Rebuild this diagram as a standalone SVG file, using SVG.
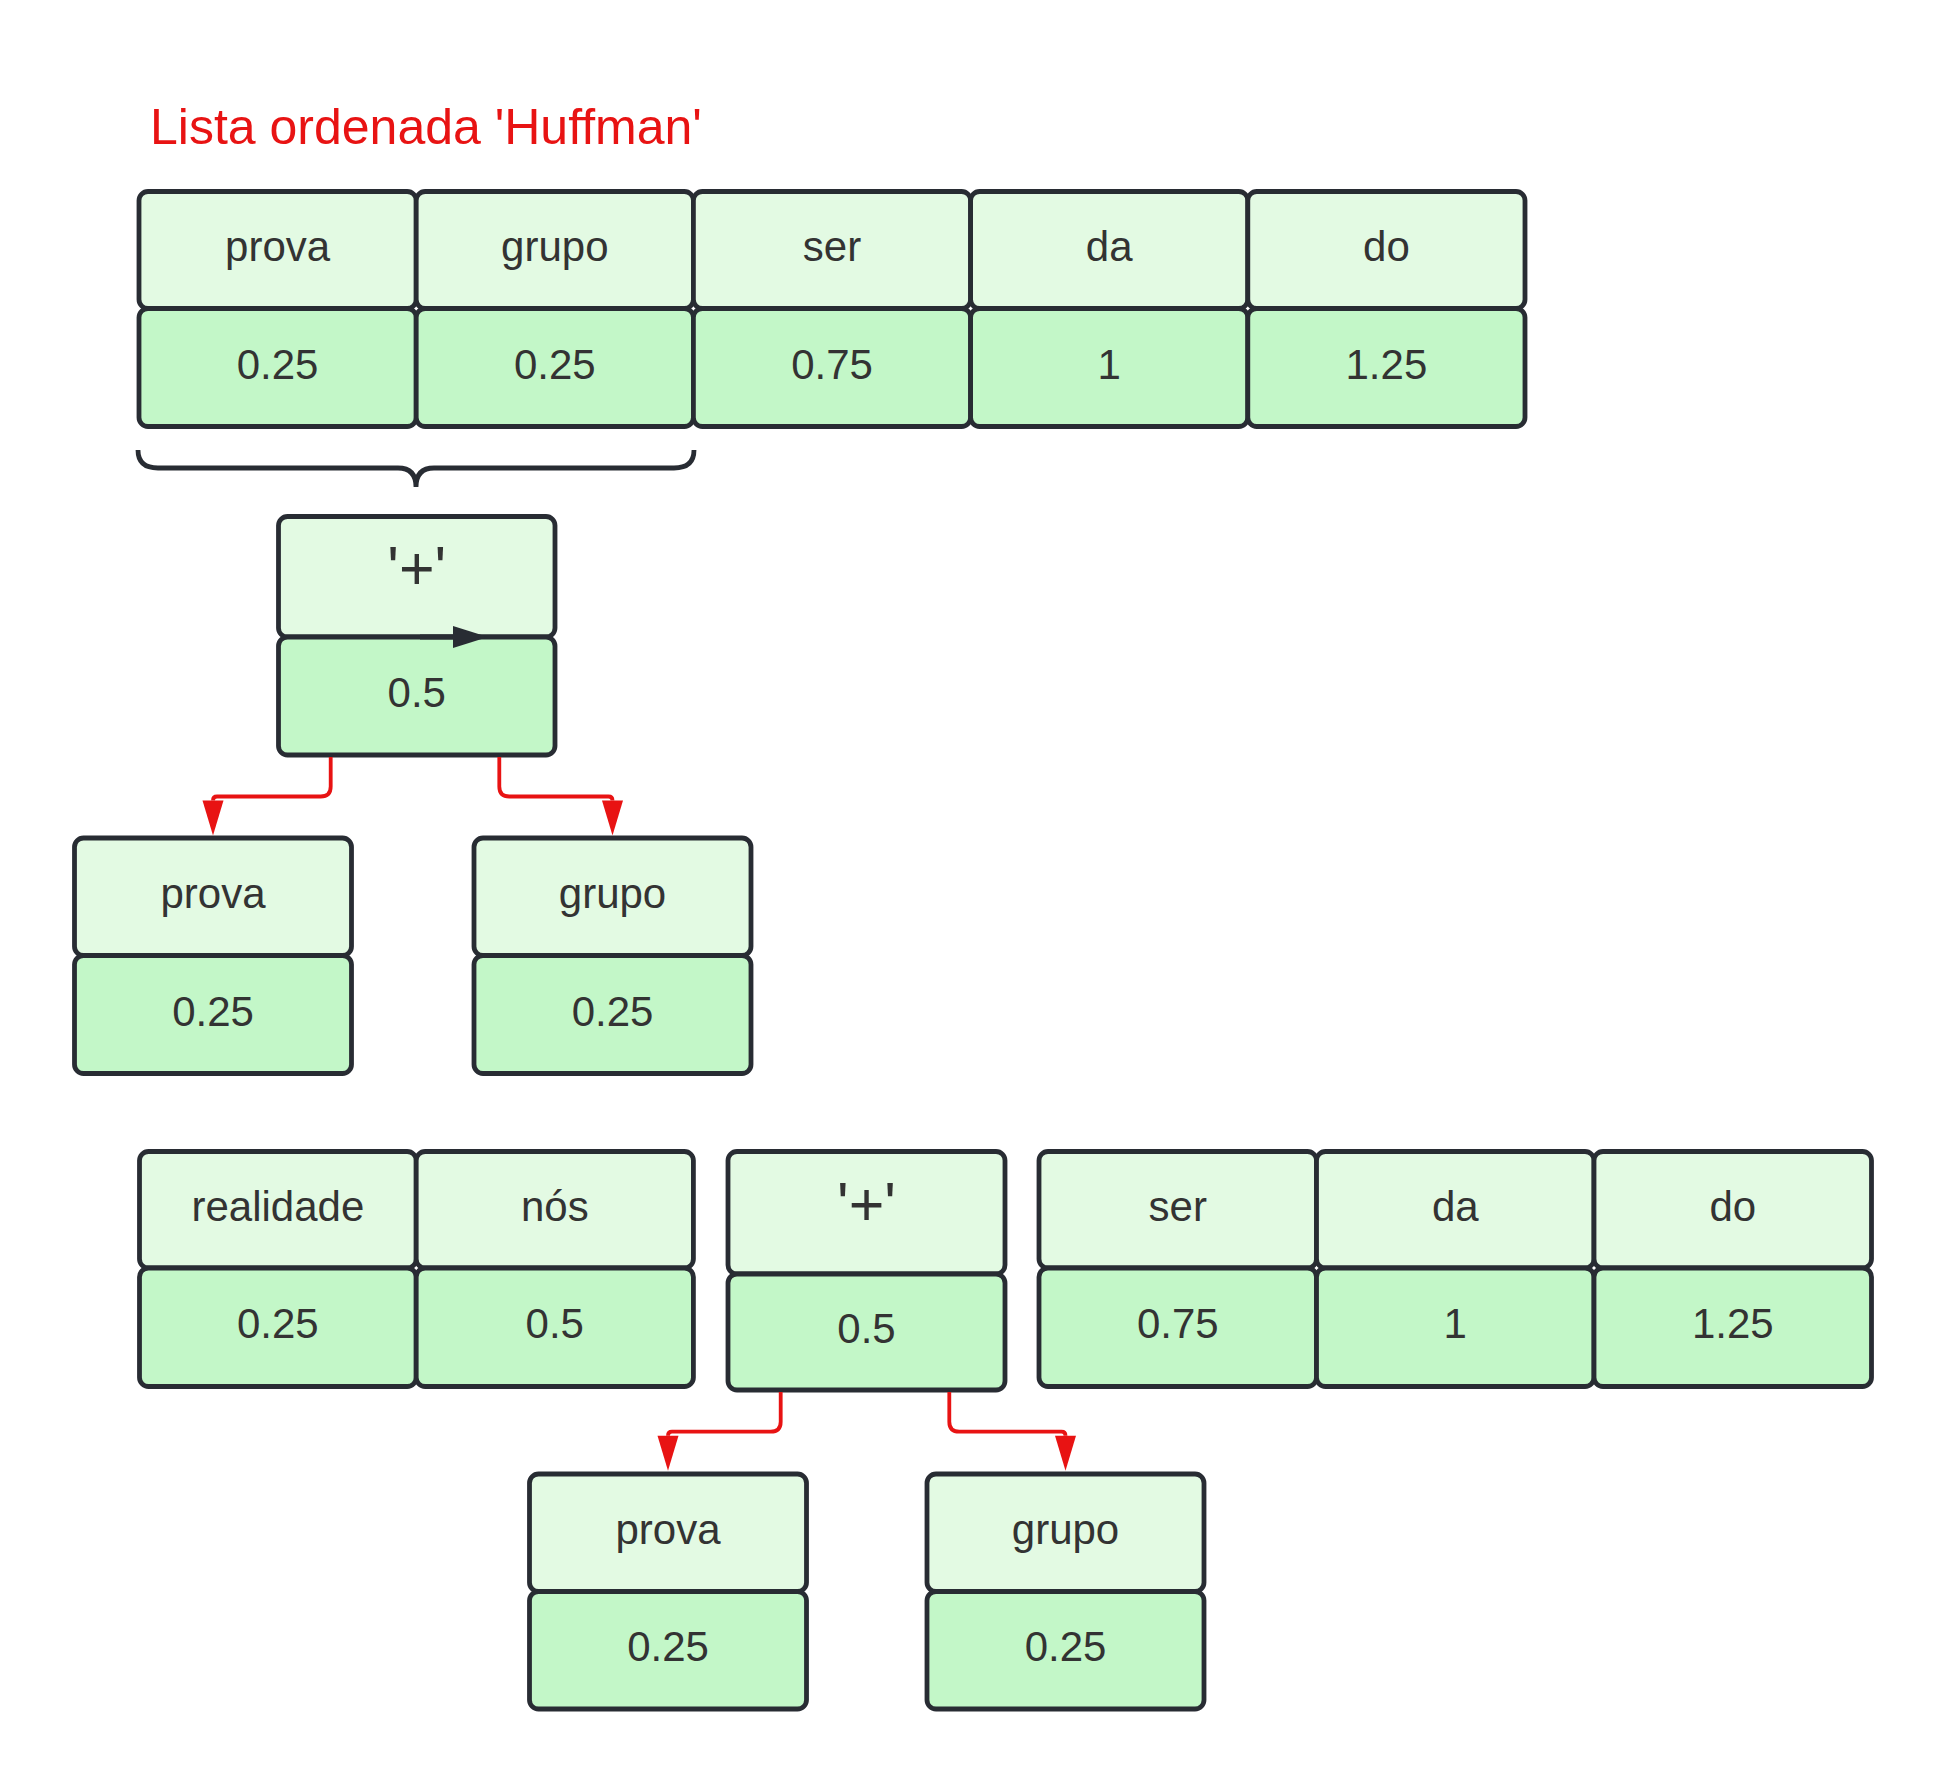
<svg xmlns="http://www.w3.org/2000/svg" width="1946" height="1785" viewBox="0 0 1946 1785">
<style>
  .up{fill:#e3fae3;stroke:#282c33;stroke-width:4.8}
  .lo{fill:#c3f7c8;stroke:#282c33;stroke-width:4.8}
  .t{font-family:"Liberation Sans",Arial,sans-serif;font-size:42px;fill:#333333;text-anchor:middle}
  .p{font-size:61px}
  .red{fill:none;stroke:#e81313;stroke-width:3.8}
  .title{font-family:"Liberation Sans",Arial,sans-serif;font-size:50px;fill:#e81313}
</style>
<defs>
  <marker id="ar" markerUnits="userSpaceOnUse" markerWidth="36" markerHeight="22" refX="0" refY="10.5" orient="auto" overflow="visible">
    <path d="M0,0 L35,10.5 L0,21 z" fill="#e81313"/>
  </marker>
  <marker id="ak" markerUnits="userSpaceOnUse" markerWidth="36" markerHeight="22" refX="0" refY="11" orient="auto" overflow="visible">
    <path d="M0,0 L35,11 L0,22 z" fill="#282c33"/>
  </marker>
</defs>
<rect width="1946" height="1785" fill="#ffffff"/>
<text class="title" x="150" y="143.5">Lista ordenada 'Huffman'</text>

<g id="nodes">
  <!-- top row -->
  <g id="n-prova">
    <rect class="up" x="139" y="191.5" width="277.2" height="117" rx="9"/>
    <rect class="lo" x="139" y="308.5" width="277.2" height="118" rx="9"/>
    <text class="t" x="277.6" y="261">prova</text>
    <text class="t" x="277.6" y="378.5">0.25</text>
  </g>
  <g id="n-grupo">
    <rect class="up" x="416.2" y="191.5" width="277.2" height="117" rx="9"/>
    <rect class="lo" x="416.2" y="308.5" width="277.2" height="118" rx="9"/>
    <text class="t" x="554.8" y="261">grupo</text>
    <text class="t" x="554.8" y="378.5">0.25</text>
  </g>
  <g id="n-ser">
    <rect class="up" x="693.4" y="191.5" width="277.2" height="117" rx="9"/>
    <rect class="lo" x="693.4" y="308.5" width="277.2" height="118" rx="9"/>
    <text class="t" x="832" y="261">ser</text>
    <text class="t" x="832" y="378.5">0.75</text>
  </g>
  <g id="n-da">
    <rect class="up" x="970.6" y="191.5" width="277.2" height="117" rx="9"/>
    <rect class="lo" x="970.6" y="308.5" width="277.2" height="118" rx="9"/>
    <text class="t" x="1109.2" y="261">da</text>
    <text class="t" x="1109.2" y="378.5">1</text>
  </g>
  <g id="n-do">
    <rect class="up" x="1247.8" y="191.5" width="277.2" height="117" rx="9"/>
    <rect class="lo" x="1247.8" y="308.5" width="277.2" height="118" rx="9"/>
    <text class="t" x="1386.4" y="261">do</text>
    <text class="t" x="1386.4" y="378.5">1.25</text>
  </g>

  <!-- brace -->
  <g id="brace">
    <path d="M138,450 Q138,468 158,468 L398,468 Q416,468 416,487 Q416,468 434,468 L674,468 Q694,468 694,450" fill="none" stroke="#282c33" stroke-width="4.8"/>
  </g>

  <!-- top plus node -->
  <g id="n-plus1">
    <rect class="up" x="278.5" y="516.5" width="276.5" height="120.5" rx="9"/>
    <rect class="lo" x="278.5" y="637" width="276.5" height="118" rx="9"/>
    <text class="t p" x="416.75" y="589">'+'</text>
    <text class="t" x="416.75" y="707">0.5</text>
  </g>
  <g id="n-prova-c1">
    <rect class="up" x="74.5" y="838" width="277" height="117.5" rx="9"/>
    <rect class="lo" x="74.5" y="955.5" width="277" height="118" rx="9"/>
    <text class="t" x="213" y="907.75">prova</text>
    <text class="t" x="213" y="1025.5">0.25</text>
  </g>
  <g id="n-grupo-c1">
    <rect class="up" x="474" y="838" width="277" height="117.5" rx="9"/>
    <rect class="lo" x="474" y="955.5" width="277" height="118" rx="9"/>
    <text class="t" x="612.5" y="907.75">grupo</text>
    <text class="t" x="612.5" y="1025.5">0.25</text>
  </g>

  <!-- bottom row -->
  <g id="n-realidade">
    <rect class="up" x="139.5" y="1151.5" width="276.7" height="116.5" rx="9"/>
    <rect class="lo" x="139.5" y="1268" width="276.7" height="118.5" rx="9"/>
    <text class="t" x="277.85" y="1220.75">realidade</text>
    <text class="t" x="277.85" y="1338.25">0.25</text>
  </g>
  <g id="n-nos">
    <rect class="up" x="416.2" y="1151.5" width="277.2" height="116.5" rx="9"/>
    <rect class="lo" x="416.2" y="1268" width="277.2" height="118.5" rx="9"/>
    <text class="t" x="554.8" y="1220.75">nós</text>
    <text class="t" x="554.8" y="1338.25">0.5</text>
  </g>
  <g id="n-plus2">
    <rect class="up" x="728" y="1151.5" width="277" height="122.5" rx="9"/>
    <rect class="lo" x="728" y="1274" width="277" height="116" rx="9"/>
    <text class="t p" x="866.5" y="1224.75">'+'</text>
    <text class="t" x="866.5" y="1343">0.5</text>
  </g>
  <g id="n-ser2">
    <rect class="up" x="1039" y="1151.5" width="277.5" height="116.5" rx="9"/>
    <rect class="lo" x="1039" y="1268" width="277.5" height="118.5" rx="9"/>
    <text class="t" x="1177.75" y="1220.75">ser</text>
    <text class="t" x="1177.75" y="1338.25">0.75</text>
  </g>
  <g id="n-da2">
    <rect class="up" x="1316.5" y="1151.5" width="277.5" height="116.5" rx="9"/>
    <rect class="lo" x="1316.5" y="1268" width="277.5" height="118.5" rx="9"/>
    <text class="t" x="1455.25" y="1220.75">da</text>
    <text class="t" x="1455.25" y="1338.25">1</text>
  </g>
  <g id="n-do2">
    <rect class="up" x="1594" y="1151.5" width="277.5" height="116.5" rx="9"/>
    <rect class="lo" x="1594" y="1268" width="277.5" height="118.5" rx="9"/>
    <text class="t" x="1732.75" y="1220.75">do</text>
    <text class="t" x="1732.75" y="1338.25">1.25</text>
  </g>
  <g id="n-prova-c2">
    <rect class="up" x="529.5" y="1474" width="277" height="117.5" rx="9"/>
    <rect class="lo" x="529.5" y="1591.5" width="277" height="117.5" rx="9"/>
    <text class="t" x="668" y="1543.75">prova</text>
    <text class="t" x="668" y="1661.25">0.25</text>
  </g>
  <g id="n-grupo-c2">
    <rect class="up" x="927" y="1474" width="277" height="117.5" rx="9"/>
    <rect class="lo" x="927" y="1591.5" width="277" height="117.5" rx="9"/>
    <text class="t" x="1065.5" y="1543.75">grupo</text>
    <text class="t" x="1065.5" y="1661.25">0.25</text>
  </g>
</g>

<g id="connectors">
  <path d="M420,637 L453,637" fill="none" stroke="#282c33" stroke-width="4.8" marker-end="url(#ak)"/>
  <path class="red" d="M330.7,757 L330.7,786.5 Q330.7,796.5 320.7,796.5 L217,796.5 Q213,796.5 213,800.5" marker-end="url(#ar)"/>
  <path class="red" d="M499.3,757 L499.3,786.5 Q499.3,796.5 509.3,796.5 L608.5,796.5 Q612.5,796.5 612.5,800.5" marker-end="url(#ar)"/>
  <path class="red" d="M780.7,1392 L780.7,1421.7 Q780.7,1431.7 770.7,1431.7 L672,1431.7 Q668,1431.7 668,1435.7" marker-end="url(#ar)"/>
  <path class="red" d="M949.3,1392 L949.3,1421.7 Q949.3,1431.7 959.3,1431.7 L1061.5,1431.7 Q1065.5,1431.7 1065.5,1435.7" marker-end="url(#ar)"/>
</g>
</svg>
